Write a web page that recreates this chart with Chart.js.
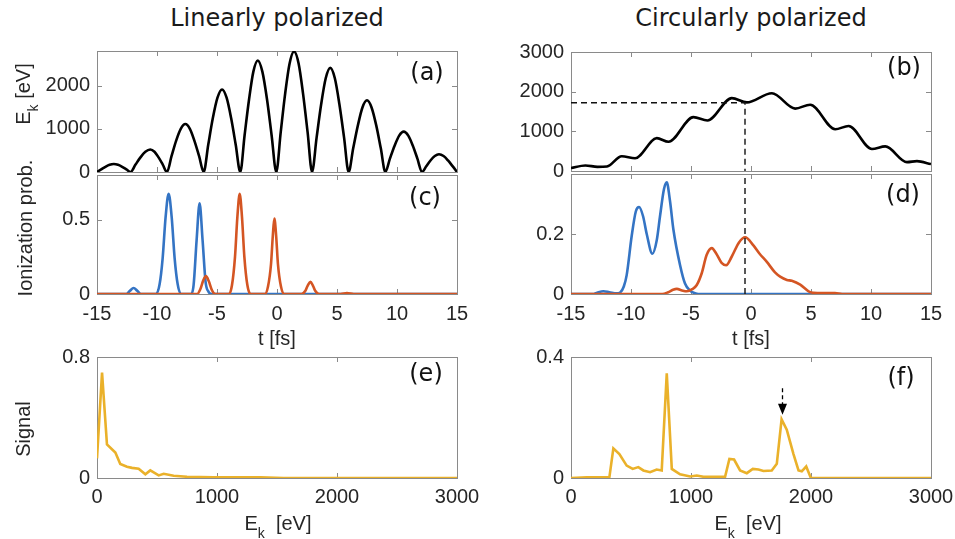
<!DOCTYPE html>
<html>
<head>
<meta charset="utf-8">
<script src="https://cdn.jsdelivr.net/npm/chart.js@4.4.0/dist/chart.umd.min.js"></script>
<style>
  body { margin: 0; background: #fff; }
  #fig { position: relative; width: 955px; height: 539px; overflow: hidden; background: #fff;
         font-family: "Liberation Sans", Arial, sans-serif; color: #262626; }
  #fig canvas { position: absolute; }
  .ttl { position: absolute; top: 6px; white-space: nowrap; font-family: "DejaVu Sans", sans-serif;
         font-size: 24px; line-height: 24px; color: #1a1a1a; transform: translateX(-50%); }
  .lbl { position: absolute; white-space: pre; font-size: 20px; line-height: 20px; transform: translate(-50%, -50%); }
  .rot { transform: translate(-50%, -50%) rotate(-90deg); }
  .tag { position: absolute; font-family: "DejaVu Sans", sans-serif; font-size: 24px; line-height: 26px;
         color: #111; transform: translate(-50%, -50%); }
  .lbl sub { font-size: 14px; line-height: 0; vertical-align: baseline; position: relative; top: 8px; }
</style>
</head>
<body>
<div id="fig">
  <div class="ttl" style="left:277px">Linearly polarized</div>
  <div class="ttl" style="left:751px">Circularly polarized</div>

  <div class="lbl rot" style="left:23px; top:94px">E<sub>k</sub> [eV]</div>
  <div class="lbl rot" style="left:25px; top:228px">Ionization prob.</div>
  <div class="lbl rot" style="left:23px; top:429px">Signal</div>

  <div class="lbl" style="left:277px; top:338px">t [fs]</div>
  <div class="lbl" style="left:751px; top:338px">t [fs]</div>
  <div class="lbl" style="left:278px; top:523px">E<sub>k</sub>  [eV]</div>
  <div class="lbl" style="left:748px; top:523px">E<sub>k</sub>  [eV]</div>

  <div class="tag" style="left:427px; top:72px">(a)</div>
  <div class="tag" style="left:904px; top:67px">(b)</div>
  <div class="tag" style="left:425px; top:197px">(c)</div>
  <div class="tag" style="left:903px; top:194px">(d)</div>
  <div class="tag" style="left:426px; top:373px">(e)</div>
  <div class="tag" style="left:901px; top:377px">(f)</div>
</div>
<script>
// (a) kinetic energy vs ionization time, linear polarization
const tLin = [-15, -14.65, -14.3, -13.95, -13.6, -13.25, -12.9, -12.55, -12.2,
  -11.79, -11.38, -10.97, -10.56, -10.21, -9.87, -9.52, -9.17,
  -8.79, -8.41, -8.02, -7.64, -7.26, -6.88, -6.49, -6.11,
  -5.73, -5.35, -4.96, -4.58, -4.2, -3.82, -3.44, -3.06,
  -2.7, -2.33, -1.97, -1.6, -1.22, -0.83, -0.45, -0.06,
  0.31, 0.68, 1.05, 1.42, 1.8, 2.17, 2.55, 2.92,
  3.3, 3.68, 4.06, 4.44, 4.82, 5.2, 5.59, 5.97,
  6.35, 6.74, 7.12, 7.5, 7.88, 8.27, 8.65, 9.03,
  9.41, 9.8, 10.18, 10.56, 10.94, 11.32, 11.7, 12.08,
  12.44, 12.79, 13.15, 13.5, 13.88, 14.25, 14.63, 15];
const ekLin = [0, 61, 120, 167, 185, 167, 120, 61, 0,
  172, 338, 468, 520, 468, 338, 172, 0,
  366, 722, 999, 1110, 999, 722, 366, 0,
  630, 1242, 1719, 1910, 1719, 1242, 630, 0,
  851, 1677, 2322, 2580, 2322, 1677, 851, 0,
  921, 1814, 2511, 2790, 2511, 1814, 921, 0,
  795, 1567, 2169, 2410, 2169, 1567, 795, 0,
  548, 1079, 1494, 1660, 1494, 1079, 548, 0,
  309, 608, 842, 935, 842, 608, 309, 0,
  135, 267, 369, 410, 369, 267, 135, 0];

// (b) kinetic energy vs ionization time, circular polarization
const tCirc = [-15, -13.8, -12.8, -12.0, -10.77, -9.66, -7.85, -6.88, -4.8, -3.63, -1.6, -0.35, 1.74, 3.68,
  4.93, 7.02, 8.13, 10.08, 11.19, 13.0, 13.83, 15];
const ekCirc = [75, 140, 105, 115, 372, 323, 828, 737, 1357, 1275, 1836, 1730, 1960, 1573, 1672, 1052, 1134,
  555, 620, 223, 248, 175];
const tMark = -0.5;
const ekMark = 1720;

// (c) ionization probability, linear polarization
const tLinBlue = [-15, -12.55, -12.25, -11.95, -11.65, -11.35, -10.1, -9.78, -9.53, -9.28, -9.03, -8.78, -8.53,
  -8.28, -7.98, -7.15, -6.95, -6.7, -6.45, -6.2, -5.95, -5.7, -5.4, 15];
const pLinBlue = [0, 0, 0.022, 0.04, 0.022, 0, 0, 0.067, 0.24, 0.52, 0.674, 0.52, 0.24, 0.067, 0, 0, 0.06,
  0.36, 0.609, 0.36, 0.08, 0.015, 0, 0];
const tLinOrange = [-15, -6.65, -6.4, -6.15, -5.92, -5.68, -5.42, -5.15, -4.0, -3.75, -3.5, -3.3, -3.11, -2.92,
  -2.72, -2.47, -2.2, -1.0, -0.75, -0.5, -0.35, -0.22, -0.07, 0.08, 0.33, 0.6, 2.05, 2.35, 2.55, 2.78, 3.0,
  3.2, 3.5, 5.3, 5.83, 6.4, 15];
const pLinOrange = [0, 0, 0.03, 0.09, 0.12, 0.085, 0.025, 0, 0, 0.06, 0.25, 0.52, 0.674, 0.52, 0.25, 0.06, 0,
  0, 0.05, 0.2, 0.39, 0.507, 0.39, 0.2, 0.05, 0, 0, 0.02, 0.055, 0.082, 0.055, 0.02, 0, 0, 0.007, 0, 0];

// (d) ionization probability, circular polarization
const tCircBlue = [-15, -13.1, -12.7, -12.3, -11.8, -11.2, -10.9, -10.6, -10.36, -9.94, -9.6, -9.33, -9.0,
  -8.69, -8.22, -7.85, -7.58, -7.25, -7.02, -6.75, -6.47, -5.91, -5.5, -5.07, -4.6, -4.2, 15];
const pCircBlue = [0, 0, 0.006, 0.009, 0.006, 0.002, 0.005, 0.025, 0.063, 0.194, 0.275, 0.29, 0.26, 0.2,
  0.134, 0.18, 0.26, 0.35, 0.372, 0.31, 0.216, 0.096, 0.035, 0.011, 0.002, 0, 0];
const tCircOrange = [-15, -7.4, -6.9, -6.5, -6.18, -5.75, -5.35, -4.9, -4.52, -4.1, -3.7, -3.27, -2.9, -2.45,
  -2.07, -1.6, -1.0, -0.49, 0.2, 0.7, 1.32, 2.0, 2.43, 2.99, 3.4, 4.1, 4.8, 5.2, 6.0, 7.0, 7.6, 15];
const pCircOrange = [0, 0, 0.006, 0.014, 0.017, 0.012, 0.009, 0.016, 0.03, 0.07, 0.13, 0.153, 0.135, 0.104,
  0.096, 0.125, 0.172, 0.189, 0.162, 0.135, 0.107, 0.072, 0.058, 0.047, 0.044, 0.031, 0.009, 0.004, 0.003,
  0.003, 0, 0];

// (e) photoelectron signal, linear polarization
const ekSigLin = [0, 42, 83, 153, 194, 250, 292, 347, 403, 444, 514, 556, 639, 750, 972, 1361, 1556, 3000];
const sigLin = [0.13, 0.697, 0.222, 0.168, 0.093, 0.075, 0.067, 0.061, 0.024, 0.05, 0.017, 0.028, 0.015,
  0.008, 0.004, 0.004, 0, 0];

// (f) photoelectron signal, circular polarization
const ekSigCirc = [0, 131, 320, 353, 403, 464, 514, 561, 603, 659, 714, 756, 798, 840, 909, 993, 1048, 1104,
  1284, 1320, 1359, 1409, 1465, 1515, 1562, 1604, 1673, 1715, 1755, 1798, 1854, 1896, 1923, 1960, 1999, 3000];
const sigCirc = [0, 0.002, 0.003, 0.098, 0.079, 0.041, 0.03, 0.036, 0.025, 0.019, 0.028, 0.025, 0.346, 0.03,
  0.012, 0.005, 0.008, 0.004, 0.004, 0.063, 0.061, 0.025, 0.016, 0.03, 0.028, 0.023, 0.025, 0.047, 0.194,
  0.16, 0.079, 0.025, 0.022, 0.038, 0, 0];
const arrowEk = 1755;
const arrowFrom = 0.297;
const arrowTo = 0.209;

// tick values
const tTicks = [-15, -10, -5, 0, 5, 10, 15];
const ekTicks = [0, 1000, 2000, 3000];

const BLUE = '#3474c4';
const ORANGE = '#d45523';
const YELLOW = '#eab12a';
const FRAME = '#8a8a8a';
const TICK_LEN = 5;

const fig = document.getElementById('fig');

function pts(xs, ys) {
  return xs.map((x, i) => ({ x: x, y: ys[i] }));
}

function curve(xs, ys, color, smooth) {
  return {
    data: pts(xs, ys), borderColor: color, borderWidth: 2.6, pointRadius: 0,
    cubicInterpolationMode: smooth ? 'monotone' : 'default', tension: 0, fill: false
  };
}

function dashed(xs, ys) {
  return { data: pts(xs, ys), borderColor: '#111', borderWidth: 1.4, borderDash: [6, 4], pointRadius: 0, tension: 0 };
}

// box around the axes with inward ticks on all four sides
const frame = {
  id: 'frame',
  beforeDatasetsDraw(chart) {
    const { ctx, chartArea: a, scales } = chart;
    ctx.save();
    ctx.strokeStyle = FRAME;
    ctx.lineWidth = 1;
    ctx.strokeRect(a.left + 0.5, a.top + 0.5, a.right - a.left, a.bottom - a.top);
    ctx.beginPath();
    scales.x.ticks.forEach(t => {
      const p = Math.round(scales.x.getPixelForValue(t.value)) + 0.5;
      ctx.moveTo(p, a.bottom); ctx.lineTo(p, a.bottom - TICK_LEN);
      ctx.moveTo(p, a.top); ctx.lineTo(p, a.top + TICK_LEN);
    });
    scales.y.ticks.forEach(t => {
      const p = Math.round(scales.y.getPixelForValue(t.value)) + 0.5;
      ctx.moveTo(a.left, p); ctx.lineTo(a.left + TICK_LEN, p);
      ctx.moveTo(a.right, p); ctx.lineTo(a.right - TICK_LEN, p);
    });
    ctx.stroke();
    ctx.restore();
  }
};

// dashed arrow pointing at the peak in (f)
const arrow = {
  id: 'arrow',
  afterDatasetsDraw(chart) {
    const { ctx, scales: { x, y } } = chart;
    const px = Math.round(x.getPixelForValue(arrowEk)) + 0.5;
    const y0 = y.getPixelForValue(arrowFrom);
    const y1 = y.getPixelForValue(arrowTo);
    ctx.save();
    ctx.strokeStyle = '#000';
    ctx.lineWidth = 1.3;
    ctx.setLineDash([4, 3]);
    ctx.beginPath(); ctx.moveTo(px, y0); ctx.lineTo(px, y1 - 10); ctx.stroke();
    ctx.setLineDash([]);
    ctx.fillStyle = '#000';
    ctx.beginPath();
    ctx.moveTo(px - 4.5, y1 - 11); ctx.lineTo(px + 4.5, y1 - 11); ctx.lineTo(px, y1);
    ctx.closePath(); ctx.fill();
    ctx.restore();
  }
};

function axis(min, max, ticks, showLabels, pad, fit) {
  return {
    type: 'linear', min: min, max: max,
    grid: { display: false, drawTicks: false },
    border: { display: false },
    afterBuildTicks: s => { s.ticks = ticks.map(v => ({ value: v })); },
    afterFit: fit,
    ticks: {
      display: showLabels, padding: pad, autoSkip: false, maxRotation: 0,
      color: '#262626', font: { family: 'Liberation Sans', size: 20 },
      callback: v => String(v)
    }
  };
}

function panel(box, o) {
  const [L, T, R, B] = box;
  const padL = 80, padT = 16, padR = 34, padB = 44;
  const cv = document.createElement('canvas');
  cv.width = R - L + padL + padR;
  cv.height = B - T + padT + padB;
  cv.style.left = (L - padL) + 'px';
  cv.style.top = (T - padT) + 'px';
  fig.insertBefore(cv, fig.firstChild);
  new Chart(cv, {
    type: 'line',
    data: { datasets: o.datasets },
    options: {
      responsive: false, animation: false, devicePixelRatio: 1,
      layout: { padding: { left: 0, top: padT, right: padR, bottom: 0 } },
      plugins: { legend: { display: false }, tooltip: { enabled: false } },
      scales: {
        x: axis(o.xMin, o.xMax, o.xTicks, o.xLabels, o.xPad || 8, s => { s.height = padB; }),
        y: axis(0, o.yMax, o.yTicks, true, 7, s => { s.width = padL; })
      }
    },
    plugins: [frame].concat(o.plugins || [])
  });
}

panel([97, 48, 457, 172], {
  xMin: -15, xMax: 15, xTicks: tTicks, xLabels: false, yMax: 2800, yTicks: [0, 1000, 2000],
  datasets: [curve(tLin, ekLin, '#000', true)]
});
panel([571, 49, 931, 171], {
  xMin: -15, xMax: 15, xTicks: tTicks, xLabels: false, yMax: 3000, yTicks: ekTicks,
  datasets: [dashed([-15, tMark, tMark], [ekMark, ekMark, 0]), curve(tCirc, ekCirc, '#000', true)]
});
panel([97, 172, 457, 294], {
  xMin: -15, xMax: 15, xTicks: tTicks, xLabels: true, yMax: 0.8, yTicks: [0, 0.5],
  datasets: [curve(tLinOrange, pLinOrange, ORANGE, true), curve(tLinBlue, pLinBlue, BLUE, true)]
});
panel([571, 171, 931, 294], {
  xMin: -15, xMax: 15, xTicks: tTicks, xLabels: true, yMax: 0.4, yTicks: [0, 0.2],
  datasets: [dashed([tMark, tMark], [0, 0.4]), curve(tCircOrange, pCircOrange, ORANGE, true),
    curve(tCircBlue, pCircBlue, BLUE, true)]
});
panel([97, 354, 457, 478], {
  xMin: 0, xMax: 3000, xTicks: ekTicks, xLabels: true, xPad: 7, yMax: 0.8, yTicks: [0, 0.8],
  datasets: [curve(ekSigLin, sigLin, YELLOW, false)]
});
panel([571, 354, 931, 478], {
  xMin: 0, xMax: 3000, xTicks: ekTicks, xLabels: true, xPad: 7, yMax: 0.4, yTicks: [0, 0.4],
  datasets: [curve(ekSigCirc, sigCirc, YELLOW, false)], plugins: [arrow]
});
</script>
</body>
</html>
